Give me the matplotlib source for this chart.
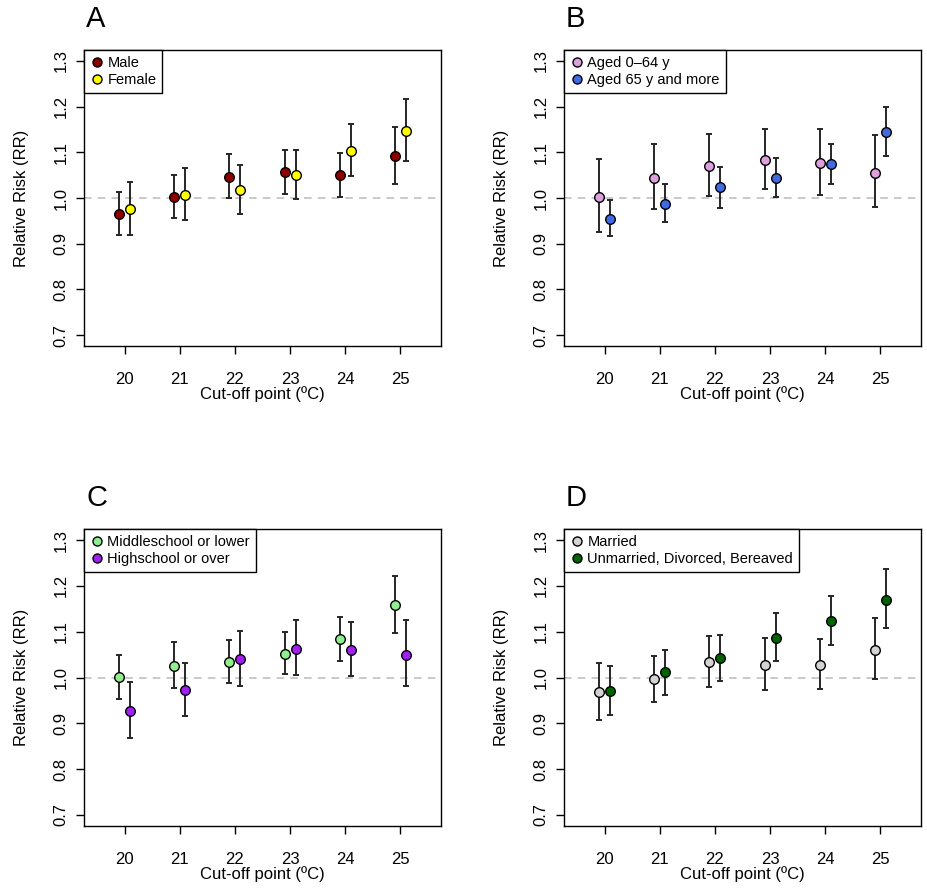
import matplotlib
matplotlib.use("Agg")
import matplotlib.pyplot as plt
from matplotlib.lines import Line2D

plt.rcParams['font.family'] = ['Liberation Sans', 'DejaVu Sans']

cutoffs = [20, 21, 22, 23, 24, 25]

# Panel A: sex
male_rr = [0.964, 1.002, 1.047, 1.057, 1.050, 1.092]
male_lo = [0.918, 0.956, 0.999, 1.009, 1.003, 1.031]
male_hi = [1.013, 1.050, 1.096, 1.106, 1.098, 1.156]
female_rr = [0.975, 1.006, 1.018, 1.051, 1.103, 1.147]
female_lo = [0.920, 0.951, 0.966, 0.998, 1.049, 1.080]
female_hi = [1.034, 1.065, 1.073, 1.106, 1.162, 1.217]

# Panel B: age
young_rr = [1.002, 1.044, 1.071, 1.084, 1.076, 1.055]
young_lo = [0.926, 0.975, 1.005, 1.019, 1.007, 0.980]
young_hi = [1.086, 1.119, 1.141, 1.151, 1.151, 1.138]
old_rr = [0.955, 0.987, 1.023, 1.044, 1.074, 1.144]
old_lo = [0.916, 0.947, 0.979, 1.003, 1.031, 1.091]
old_hi = [0.996, 1.030, 1.068, 1.088, 1.119, 1.200]

# Panel C: education
mid_rr = [1.001, 1.025, 1.034, 1.052, 1.083, 1.158]
mid_lo = [0.954, 0.977, 0.988, 1.007, 1.036, 1.098]
mid_hi = [1.049, 1.077, 1.082, 1.100, 1.132, 1.221]
high_rr = [0.926, 0.972, 1.040, 1.063, 1.060, 1.049]
high_lo = [0.867, 0.917, 0.982, 1.006, 1.003, 0.981]
high_hi = [0.990, 1.031, 1.101, 1.126, 1.122, 1.125]

# Panel D: marital status
married_rr = [0.968, 0.996, 1.034, 1.028, 1.028, 1.061]
married_lo = [0.908, 0.946, 0.980, 0.972, 0.975, 0.996]
married_hi = [1.031, 1.048, 1.090, 1.087, 1.085, 1.130]
single_rr = [0.970, 1.011, 1.042, 1.087, 1.123, 1.170]
single_lo = [0.918, 0.962, 0.992, 1.036, 1.071, 1.108]
single_hi = [1.026, 1.061, 1.093, 1.140, 1.178, 1.237]

panels = [
    ("A", [("Male", "#8B0000", male_rr, male_lo, male_hi),
           ("Female", "#FFFF00", female_rr, female_lo, female_hi)]),
    ("B", [("Aged 0\u201364 y", "#DDA0DD", young_rr, young_lo, young_hi),
           ("Aged 65 y and more", "#4169E1", old_rr, old_lo, old_hi)]),
    ("C", [("Middleschool or lower", "#90EE90", mid_rr, mid_lo, mid_hi),
           ("Highschool or over", "#A020F0", high_rr, high_lo, high_hi)]),
    ("D", [("Married", "#D3D3D3", married_rr, married_lo, married_hi),
           ("Unmarried, Divorced, Bereaved", "#006400", single_rr, single_lo, single_hi)]),
]

W, H = 927, 892
fig = plt.figure(figsize=(W / 100, H / 100), dpi=100)

# axes boxes in pixels: left, top, right, bottom
boxes = [(84, 50, 441, 346), (564, 50, 921, 346),
         (84, 529, 441, 826), (564, 529, 921, 826)]

offsets = [-0.1, 0.1]

for (letter, groups), (l, t, r, b) in zip(panels, boxes):
    ax = fig.add_axes([l / W, (H - b) / H, (r - l) / W, (b - t) / H])
    ax.axhline(1.0, color='#BBBBBB', linestyle=(0, (5, 4)), linewidth=1.1, zorder=1)
    handles = []
    for (label, color, rr, lo, hi), off in zip(groups, offsets):
        xs = [c + off for c in cutoffs]
        yerr = [[v - a for v, a in zip(rr, lo)], [c - v for v, c in zip(rr, hi)]]
        ax.errorbar(xs, rr, yerr=yerr, fmt='none', ecolor='#262626',
                    elinewidth=1.4, capsize=2.0, capthick=1.4, zorder=2)
        ax.scatter(xs, rr, s=48, facecolor=color, edgecolor='black',
                   linewidth=1.0, zorder=3)
        handles.append(Line2D([], [], marker='o', linestyle='none', markersize=6.5,
                              markerfacecolor=color, markeredgecolor='black',
                              markeredgewidth=1.0, label=label))
    ax.set_xlim(19.26, 25.74)
    ax.set_ylim(0.676, 1.324)
    ax.set_xticks(cutoffs)
    ax.set_yticks([0.7, 0.8, 0.9, 1.0, 1.1, 1.2, 1.3])
    ax.set_yticklabels(["0.7", "0.8", "0.9", "1.0", "1.1", "1.2", "1.3"],
                       rotation=90, va='center')
    ax.tick_params(axis='both', labelsize=12, length=6, width=1.0)
    ax.tick_params(axis='x', pad=13)
    ax.tick_params(axis='y', pad=5)
    for s in ax.spines.values():
        s.set_linewidth(1.0)
    ax.set_xlabel("Cut-off point (\u00baC)", fontsize=12, labelpad=-1)
    ax.set_ylabel("Relative Risk (RR)", fontsize=12, labelpad=18)
    leg = ax.legend(handles=handles, loc='upper left', fontsize=10.5,
                    handletextpad=0.2, borderaxespad=0, borderpad=0.4,
                    handlelength=1.0, labelspacing=0.2, fancybox=False,
                    framealpha=1)
    leg.get_frame().set_edgecolor('black')
    leg.get_frame().set_linewidth(1.0)
    fig.text((l + 2) / W, 1 - (t - 23) / H, letter, fontsize=21,
             ha='left', va='baseline')

fig.savefig("out.png", dpi=100)
